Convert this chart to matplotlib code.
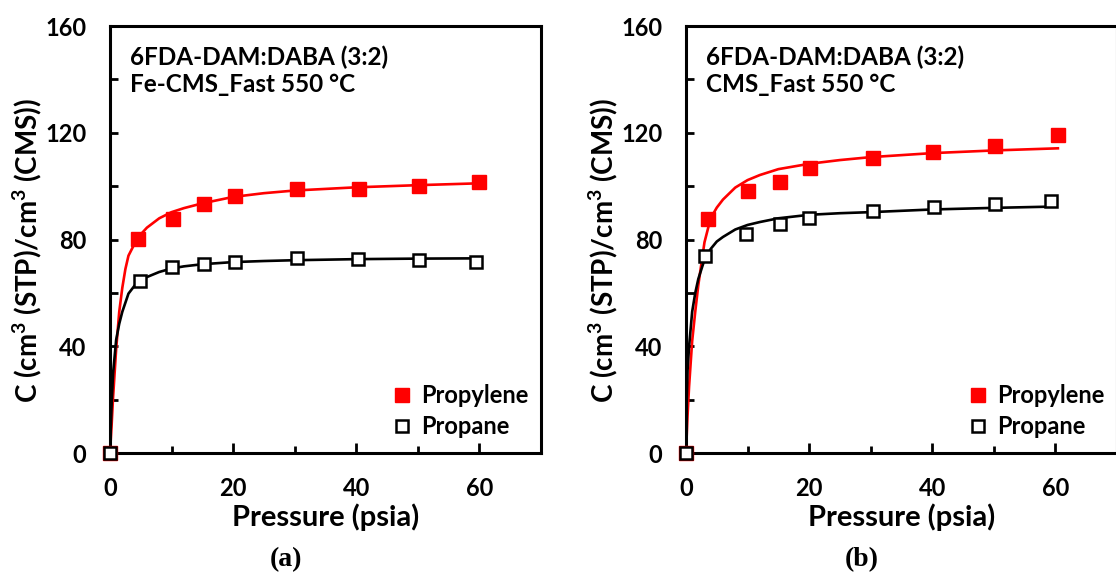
import matplotlib
matplotlib.use("Agg")
import matplotlib.pyplot as plt
from matplotlib.lines import Line2D

plt.rcParams['font.family'] = ['Lato', 'DejaVu Sans']
plt.rcParams['font.weight'] = 'bold'
plt.rcParams['mathtext.fontset'] = 'custom'
plt.rcParams['mathtext.rm'] = 'Lato:bold'
plt.rcParams['mathtext.bf'] = 'Lato:bold'

# --- measured points, panel (a) Fe-CMS ---
a_p_c3h6 = [0, 4.5, 10.3, 15.3, 20.3, 30.4, 40.4, 50.2, 60.0]
a_c_c3h6 = [0, 80.1, 87.6, 93.4, 96.5, 98.9, 98.9, 100.1, 101.6]
a_p_c3h8 = [0, 4.9, 10.0, 15.3, 20.3, 30.4, 40.3, 50.2, 59.5]
a_c_c3h8 = [0, 64.5, 69.7, 70.9, 71.5, 73.3, 72.8, 72.4, 71.6]

# --- measured points, panel (b) CMS ---
b_p_c3h6 = [0, 3.6, 10.0, 15.3, 20.2, 30.3, 40.1, 50.2, 60.4]
b_c_c3h6 = [0, 87.6, 98.4, 101.6, 106.9, 110.7, 113.0, 114.9, 119.2]
b_p_c3h8 = [0, 3.1, 9.7, 15.2, 20.0, 30.3, 40.2, 50.2, 59.2]
b_c_c3h8 = [0, 73.7, 82.2, 85.7, 88.2, 90.6, 92.4, 93.2, 94.5]

# --- fitted curves ---
a_fit_p_c3h6 = [0, 0.25, 0.5, 1, 1.5, 2, 2.5, 3, 4, 5, 6, 8, 10, 12, 15, 20, 25, 30, 40, 50, 60]
a_fit_c_c3h6 = [0, 10, 21, 39, 53, 62, 69, 74, 78.5, 82, 84.5, 88, 90.3, 91.8, 93.6, 96, 97.4, 98.4, 99.6, 100.4, 101.1]
a_fit_p_c3h8 = [0, 0.1, 0.25, 0.5, 1, 1.5, 2, 3, 4, 5, 6, 8, 10, 12, 15, 20, 25, 30, 40, 50, 60]
a_fit_c_c3h8 = [0, 8, 17.5, 30, 42.5, 48.5, 53, 59.8, 62.8, 64.6, 66, 67.9, 69.2, 70, 70.8, 71.6, 72, 72.3, 72.7, 72.9, 73.0]

b_fit_p_c3h6 = [0, 0.25, 0.5, 1, 1.5, 2, 2.5, 3, 4, 5, 6, 8, 10, 12, 15, 20, 25, 30, 40, 50, 60.4]
b_fit_c_c3h6 = [0, 14, 25, 42, 53, 63, 71, 79, 88, 92, 95, 99.5, 102.3, 104.2, 106.4, 108.4, 109.8, 110.9, 112.4, 113.4, 114.2]
b_fit_p_c3h8 = [0, 0.1, 0.25, 0.5, 1, 1.5, 2, 3, 4, 5, 6, 8, 10, 12, 15, 20, 25, 30, 40, 50, 60]
b_fit_c_c3h8 = [0, 18, 31, 40, 53, 60, 65.3, 72.5, 76.5, 79.3, 81, 83.8, 85.5, 86.6, 88, 89.3, 89.9, 90.3, 91.3, 91.9, 92.4]

panels = [
    dict(left=110, tag='(a)', line2='Fe-CMS_Fast 550 °C',
         pts=(a_p_c3h6, a_c_c3h6, a_p_c3h8, a_c_c3h8),
         fit=(a_fit_p_c3h6, a_fit_c_c3h6, a_fit_p_c3h8, a_fit_c_c3h8)),
    dict(left=686, tag='(b)', line2='CMS_Fast 550 °C',
         pts=(b_p_c3h6, b_c_c3h6, b_p_c3h8, b_c_c3h8),
         fit=(b_fit_p_c3h6, b_fit_c_c3h6, b_fit_p_c3h8, b_fit_c_c3h8)),
]

W, H = 1116, 576
fig = plt.figure(figsize=(W / 100, H / 100), dpi=100)
RED = '#ff0000'

for pn in panels:
    L = pn['left']
    ax = fig.add_axes([L / W, 1 - 453.3 / H, 431 / W, 427.3 / H])
    fp1, fc1, fp2, fc2 = pn['fit']
    ax.plot(fp1, fc1, color=RED, lw=1.9, zorder=2)
    ax.plot(fp2, fc2, color='black', lw=1.9, zorder=2)
    p1, c1, p2, c2 = pn['pts']
    ax.plot(p1, c1, 's', color=RED, ms=9.5, mec=RED, zorder=4, clip_on=False)
    ax.plot(p2, c2, 's', mfc='white', mec='black', mew=1.8, ms=8.3, zorder=5, clip_on=False)

    ax.set_xlim(0, 70)
    ax.set_ylim(0, 160)
    ax.set_xticks([0, 20, 40, 60])
    ax.set_xticks([10, 30, 50], minor=True)
    ax.set_yticks([0, 40, 80, 120, 160])
    ax.set_yticks([20, 60, 100, 140], minor=True)
    ax.tick_params(axis='both', which='both', direction='in', width=2, labelsize=17, pad=17)
    ax.tick_params(axis='x', which='major', length=7)
    ax.tick_params(axis='x', which='minor', length=5)
    ax.tick_params(axis='y', which='both', length=6)
    for s in ax.spines.values():
        s.set_linewidth(2.2)

    ax.set_xlabel('Pressure (psia)', fontsize=21, fontweight='bold', va='center')
    ax.xaxis.set_label_coords(0.5, -64 / 427.3)
    ax.set_ylabel(r'C (cm$^3$ (STP)/cm$^3$ (CMS))', fontsize=20, fontweight='bold', va='center')
    ax.yaxis.set_label_coords(-83 / 431, 0.475)

    fig.text((L + 20) / W, 1 - 57 / H, '6FDA-DAM:DABA (3:2)', fontsize=17.5, fontweight='bold', va='center')
    fig.text((L + 20) / W, 1 - 84 / H, pn['line2'], fontsize=17.5, fontweight='bold', va='center')

    handles = [Line2D([], [], ls='none', marker='s', color=RED, ms=9.5),
               Line2D([], [], ls='none', marker='s', mfc='white', mec='black', mew=1.8, ms=8.3)]
    ax.legend(handles, ['Propylene', 'Propane'], loc='center left',
              bbox_to_anchor=((L + 284) / W, 1 - 411 / H), bbox_transform=fig.transFigure,
              frameon=False, handlelength=0.7, handletextpad=0.45,
              borderpad=0, borderaxespad=0, labelspacing=0.35,
              prop={'family': ['Lato'], 'weight': 'bold', 'size': 17})

    fig.text((L + 176) / W, 1 - 560 / H, pn['tag'], fontsize=20, fontweight='bold',
             family='Liberation Serif', ha='center', va='center')

fig.savefig('out.png', dpi=100)
